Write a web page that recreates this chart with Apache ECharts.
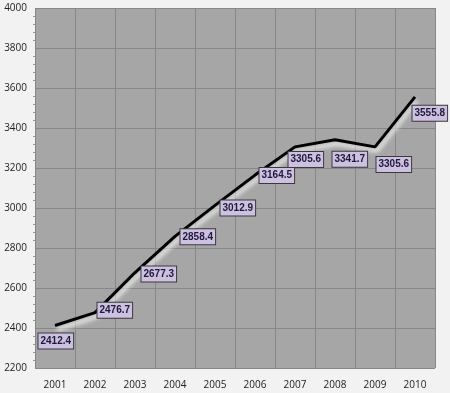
<!DOCTYPE html>
<html><head><meta charset="utf-8">
<script src="https://cdn.jsdelivr.net/npm/echarts@6/dist/echarts.min.js"></script>
<style>html,body{margin:0;padding:0;background:#f2f2f2}#c{width:450px;height:393px}</style>
</head><body><div id="c"></div>
<script>
var years = ['2001','2002','2003','2004','2005','2006','2007','2008','2009','2010'];
var values = [2412.4, 2476.7, 2677.3, 2858.4, 3012.9, 3164.5, 3305.6, 3341.7, 3305.6, 3555.8];
var labelOffsets = [[-16,16],[3,-2],[7,2],[6,1],[6,3],[5,1],[-6,13],[-2,20],[2,18],[-2,17]];

var chart = echarts.init(document.getElementById('c'));
chart.setOption({
  backgroundColor: '#f2f2f2',
  animation: false,
  grid: {left: 35, right: 15, top: 8, bottom: 25, show: true, backgroundColor: '#a6a6a6', borderWidth: 0},
  xAxis: {
    type: 'category', data: years, boundaryGap: true,
    axisLine: {show: false}, axisTick: {show: false},
    splitLine: {show: true, lineStyle: {color: '#878787', width: 1}},
    axisLabel: {color: '#222', fontFamily: 'Open Sans', fontSize: 10, margin: 12, interval: 0}
  },
  yAxis: {
    type: 'value', min: 2200, max: 4000, interval: 200,
    axisLine: {show: false}, axisTick: {show: false},
    minorTick: {show: true, splitNumber: 5, length: 2, lineStyle: {color: '#999999'}},
    splitLine: {show: true, lineStyle: {color: '#878787', width: 1}},
    axisLabel: {color: '#222', fontFamily: 'Open Sans', fontSize: 10, margin: 8,
      formatter: function(v){ return String(v); }}
  },
  series: [{
    type: 'line',
    data: values.map(function(v, i){
      return {value: v, label: {position: [labelOffsets[i][0], labelOffsets[i][1]]}};
    }),
    symbol: 'circle', symbolSize: 1, showSymbol: true,
    itemStyle: {color: 'rgba(0,0,0,0)'},
    lineStyle: {color: '#000', width: 3, shadowColor: 'rgba(255,255,255,0.95)', shadowBlur: 4, shadowOffsetX: 2, shadowOffsetY: 4},
    label: {
      show: true, align: 'left', verticalAlign: 'middle',
      formatter: function(p){ return p.value.toFixed(1); },
      fontFamily: 'Liberation Sans', fontWeight: 'bold', fontSize: 10, color: '#1f1a3a',
      backgroundColor: '#cdc0e0', borderColor: '#3a3a3a', borderWidth: 1,
      padding: [2, 2, 1, 2], lineHeight: 12
    },
    labelLayout: {hideOverlap: false}
  }]
});
</script></body></html>
